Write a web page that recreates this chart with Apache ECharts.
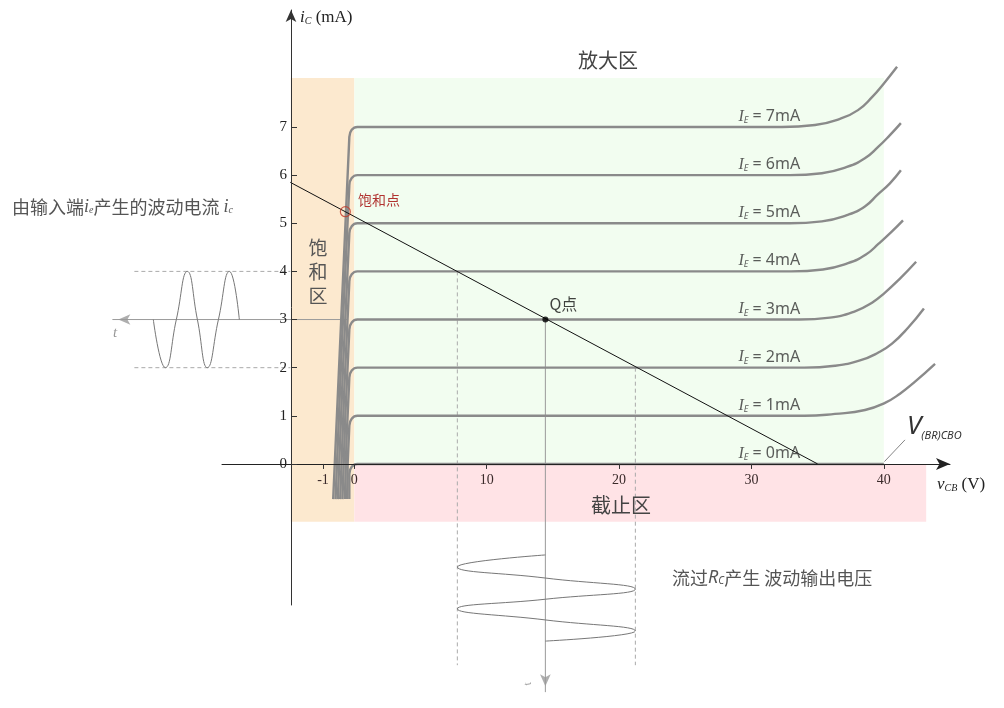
<!DOCTYPE html>
<html>
<head>
<meta charset="utf-8">
<script src="https://cdn.jsdelivr.net/npm/echarts@6/dist/echarts.min.js"></script>
<style>
html,body{margin:0;padding:0;background:#fff;}
#main{width:1004px;height:708px;}
</style>
</head>
<body>
<div id="main"></div>
<script>
// 刻度（负半轴在原图中被放大，-1 的刻度位置按图读取）
var xTickValues = [-2.37, 0, 10, 20, 30, 40];
var xTickLabels = ['-1', '0', '10', '20', '30', '40'];
var yTickValues = [0, 1, 2, 3, 4, 5, 6, 7];
// 发射极电流 I_E (mA)
var ieLevels = [0, 1, 2, 3, 4, 5, 6, 7];
// 饱和区各曲线底端的 vCB
var satFootX = [-0.38, -0.55, -0.72, -0.9, -1.07, -1.25, -1.42, -1.6];
var satFootY = -0.73;
// 拐角形状（相对 (0, I_E) 的偏移）
var kneeDX = [-0.38, -0.2, 0.23];
var kneeDY = [-0.21, -0.06, 0];
// 水平段结束处 vCB
var flatEndX = [40, 34.0, 34.0, 33.6, 33.0, 32.9, 32.9, 32.3];
// 击穿上翘段：vCB (V) 与上升量 (mA)
var riseX = [
  [],
  [36.31, 38.58, 40.09, 41.22, 42.36, 43.87],
  [36.31, 38.2, 39.56, 40.62, 41.83, 43.03],
  [35.93, 37.82, 39.11, 40.09, 41.22, 42.44],
  [35.4, 37.29, 38.65, 39.63, 40.54, 41.45],
  [35.32, 37.21, 38.57, 39.55, 40.46, 41.29],
  [35.32, 37.21, 38.57, 39.55, 40.46, 41.29],
  [34.8, 36.69, 38.05, 39.11, 40.02, 41.0]
];
var riseY = [
  [],
  [0.04, 0.12, 0.27, 0.46, 0.71, 1.08],
  [0.04, 0.15, 0.31, 0.5, 0.83, 1.23],
  [0.04, 0.17, 0.35, 0.56, 0.85, 1.2],
  [0.04, 0.17, 0.35, 0.58, 0.81, 1.06],
  [0.04, 0.17, 0.35, 0.6, 0.83, 1.1],
  [0.04, 0.17, 0.35, 0.58, 0.83, 1.08],
  [0.04, 0.17, 0.35, 0.62, 0.91, 1.25]
];
// 负载线
var loadLineX = [-4.84, 35];
var loadLineY = [5.85, 0];
var qPoint = [14.43, 3];
var satPoint = [-0.68, 5.24];
var ieLabelX = 31.35;
// 输入电流波形（时间向左）
var inWaveX = [-8.69, -9.44, -10.27, -11.11, -11.86, -12.62, -13.45, -14.28, -15.19];
var inWaveY = [3, 4, 3, 2, 3, 4, 3, 2, 3];
// 输出电压波形（时间向下）
var outWaveX = [14.43, 7.78, 14.43, 21.23, 14.43, 7.78, 14.43, 21.23, 14.43];
var outWaveY = [-1.89, -2.14, -2.37, -2.60, -2.81, -3.01, -3.24, -3.47, -3.68];
// 辅助线端点
var inAxisX = [-18.28, -0.5];
var inDashX = [-16.62, -4.84];
var outAxisY = [3, -4.74];
var outDashLX = 7.78, outDashRX = 21.23, outDashEndY = -4.18;
var inArrow = [-17.83, 3];
var outArrow = [14.43, -4.62];
var vbrLineX = [40.05, 41.6];
var vbrLineY = [0.05, 0.5];
// 区域
var satArea = [[-4.8, 8.02], [0, -1.2]];
var ampArea = [[0, 8.02], [40, 0]];
var cutArea = [[0, 0], [43.2, -1.2]];

// 坐标轴范围与版面
var xMin = -10, xMax = 45, yMin = -2.93, yMax = 9.43;
var gLeft = 222, gRight = 54, gTop = 10, gBottom = 103;
var pxPerX = (1004 - gLeft - gRight) / (xMax - xMin);
var pxPerY = (708 - gTop - gBottom) / (yMax - yMin);
var x0px = gLeft - xMin * pxPerX;
var y0px = gTop + yMax * pxPerY;
// 覆盖层（超出主坐标区的辅助线与波形）
var oxMin = -20, oyMin = -5;

var chart = echarts.init(document.getElementById('main'));
var serif = 'Liberation Serif';
var cjk = 'Noto Sans CJK SC';
var curveColor = '#8a8a8a';
var helpColor = '#9a9a9a';

function zip(xs, ys) {
  return xs.map(function (x, i) { return [x, ys[i]]; });
}

var series = [];

// 背景区域
series.push({
  type: 'line', data: [], z: 1, silent: true,
  markArea: {
    silent: true,
    data: [
      [{ coord: satArea[0], itemStyle: { color: '#fce9cf' } }, { coord: satArea[1] }],
      [{ coord: ampArea[0], itemStyle: { color: '#f2fdf0' } }, { coord: ampArea[1] }],
      [{ coord: cutArea[0], itemStyle: { color: '#ffe3e6' } }, { coord: cutArea[1] }]
    ]
  }
});

// 输出特性曲线
ieLevels.forEach(function (k) {
  var pts = [[satFootX[k], satFootY]];
  kneeDX.forEach(function (dx, i) { pts.push([dx, k + kneeDY[i]]); });
  if (k === 0) {
    pts.push([flatEndX[k], 0]);
  } else {
    pts.push([flatEndX[k] - 3, k]);
    pts.push([flatEndX[k], k]);
    riseX[k].forEach(function (x, i) { pts.push([x, k + riseY[k][i]]); });
  }
  series.push({
    type: 'line', data: pts, smooth: 0.5, symbol: 'none', clip: false, z: 3,
    lineStyle: { color: curveColor, width: 2.4 }, silent: true
  });
});

// 辅助线（覆盖层坐标系）
function helpLine(data, dashed, color, width) {
  series.push({
    type: 'line', xAxisIndex: 1, yAxisIndex: 1, data: data, symbol: 'none', clip: false, z: 2, silent: true,
    lineStyle: { color: color || helpColor, width: width || 1, type: dashed ? [4, 3] : 'solid' }
  });
}
helpLine([[inAxisX[0], 3], [inAxisX[1], 3]], false);
helpLine([[inDashX[0], 4], [inDashX[1], 4]], true, '#aaa');
helpLine([[inDashX[0], 2], [inDashX[1], 2]], true, '#aaa');
helpLine([[qPoint[0], outAxisY[0]], [qPoint[0], outAxisY[1]]], false);
helpLine([[outDashLX, 4], [outDashLX, outDashEndY]], true, '#aaa');
helpLine([[outDashRX, 2], [outDashRX, outDashEndY]], true, '#aaa');
helpLine(zip(vbrLineX, vbrLineY), false, '#666', 0.8);

// 波形
series.push({
  type: 'line', xAxisIndex: 1, yAxisIndex: 1, data: zip(inWaveX, inWaveY), smooth: 0.5, symbol: 'none', clip: false, z: 4,
  lineStyle: { color: '#777', width: 1 }, silent: true
});
series.push({
  type: 'line', xAxisIndex: 1, yAxisIndex: 1, data: zip(outWaveX, outWaveY), smooth: 0.5, symbol: 'none', clip: false, z: 4,
  lineStyle: { color: '#777', width: 1 }, silent: true
});

// 箭头
series.push({
  type: 'scatter', xAxisIndex: 1, yAxisIndex: 1, clip: false, symbol: 'arrow', symbolSize: [8, 12], z: 4, silent: true,
  itemStyle: { color: helpColor },
  data: [{ value: inArrow, symbolRotate: 90 }, { value: outArrow, symbolRotate: 180 }]
});

// 负载线
series.push({
  type: 'line', data: zip(loadLineX, loadLineY), symbol: 'none', clip: false, z: 5,
  lineStyle: { color: '#111', width: 1 }, silent: true
});

// Q 点
series.push({
  type: 'scatter', data: [qPoint], symbolSize: 6, z: 6, silent: true,
  itemStyle: { color: '#000' },
  label: { show: true, position: 'top', offset: [18, 0], formatter: 'Q点',
    fontFamily: cjk, fontSize: 16, color: '#111' }
});

// 饱和点
series.push({
  type: 'scatter', data: [satPoint], symbolSize: 10, z: 6, silent: true,
  itemStyle: { color: 'rgba(0,0,0,0)', borderColor: '#c0392b', borderWidth: 1.2 },
  label: { show: true, position: 'right', offset: [2, -12], formatter: '饱和点',
    fontFamily: cjk, fontSize: 14, color: '#a00000' }
});

// I_E 标注
series.push({
  type: 'scatter', symbolSize: 0, z: 6, silent: true,
  data: ieLevels.map(function (k) { return [ieLabelX, k]; }),
  label: {
    show: true, position: 'top', distance: 2,
    formatter: function (p) { return '{i|I}{e|E}{t| = ' + p.value[1] + 'mA}'; },
    rich: {
      i: { fontFamily: serif, fontStyle: 'italic', fontSize: 16, color: '#333' },
      e: { fontFamily: 'Noto Sans', fontStyle: 'italic', fontSize: 9, color: '#333', padding: [8, 0, 0, 0] },
      t: { fontFamily: 'Noto Sans', fontSize: 16, color: '#333' }
    }
  }
});

var option = {
  animation: false,
  backgroundColor: '#fff',
  grid: [
    { left: gLeft, right: gRight, top: gTop, bottom: gBottom, containLabel: false, outerBoundsMode: 'none' },
    { left: x0px + oxMin * pxPerX, right: gRight, top: gTop, bottom: 708 - (y0px - oyMin * pxPerY),
      containLabel: false, outerBoundsMode: 'none' }
  ],
  xAxis: [{
    type: 'value', min: xMin, max: xMax, z: 8, position: 'bottom',
    offset: -((708 - gBottom) - y0px),
    axisLine: { onZero: false, lineStyle: { color: '#222', width: 1 }, symbol: ['none', 'arrow'], symbolSize: [9, 14] },
    axisTick: { show: true, customValues: xTickValues, length: 5, lineStyle: { color: '#333' } },
    axisLabel: {
      customValues: xTickValues, color: '#3a2a2a', fontFamily: serif, fontSize: 14, margin: 9,
      formatter: function (v) { return xTickLabels[xTickValues.indexOf(v)]; }
    },
    splitLine: { show: false },
    name: '{v|v}{s|CB}{u| (V)}', nameLocation: 'end', nameGap: -13,
    nameTextStyle: {
      align: 'left', verticalAlign: 'top', padding: [12, 0, 0, 0],
      rich: {
        v: { fontFamily: serif, fontStyle: 'italic', fontSize: 17, color: '#222' },
        s: { fontFamily: serif, fontStyle: 'italic', fontSize: 10, color: '#222', padding: [7, 0, 0, 0] },
        u: { fontFamily: serif, fontSize: 17, color: '#222' }
      }
    }
  }, {
    type: 'value', gridIndex: 1, min: oxMin, max: xMax, show: false
  }],
  yAxis: [{
    type: 'value', min: yMin, max: yMax, position: 'left', offset: -69, z: 8,
    axisLine: { onZero: false, lineStyle: { color: '#333', width: 1 }, symbol: ['none', 'arrow'], symbolSize: [8, 12] },
    axisTick: { show: true, customValues: yTickValues, inside: true, length: 6, lineStyle: { color: '#333' } },
    axisLabel: { customValues: yTickValues, color: '#222', fontFamily: serif, fontSize: 15, margin: 4 },
    splitLine: { show: false },
    name: '{i|i}{s|C}{u| (mA)}', nameLocation: 'end', nameGap: -8,
    nameTextStyle: {
      align: 'left', verticalAlign: 'middle', padding: [0, 0, 0, 9],
      rich: {
        i: { fontFamily: serif, fontStyle: 'italic', fontSize: 17, color: '#222' },
        s: { fontFamily: serif, fontStyle: 'italic', fontSize: 10, color: '#222', padding: [7, 0, 0, 0] },
        u: { fontFamily: serif, fontSize: 17, color: '#222' }
      }
    }
  }, {
    type: 'value', gridIndex: 1, min: oyMin, max: yMax, show: false
  }],
  graphic: [
    { type: 'text', x: 608, y: 60, z: 10, style: { text: '放大区', fontFamily: cjk, fontSize: 20, fill: '#444', align: 'center', verticalAlign: 'middle' } },
    { type: 'text', x: 621, y: 505, z: 10, style: { text: '截止区', fontFamily: cjk, fontSize: 20, fill: '#444', align: 'center', verticalAlign: 'middle' } },
    { type: 'text', x: 318, y: 272, z: 10, style: { text: '饱\n和\n区', fontFamily: cjk, fontSize: 19, lineHeight: 24, fill: '#555', align: 'center', verticalAlign: 'middle' } },
    { type: 'text', x: 12, y: 207, z: 10, style: {
      text: '{c|由输入端}{i|i}{s|e}{c|产生的波动电流 }{i|i}{s|c}', align: 'left', verticalAlign: 'middle',
      rich: {
        c: { fontFamily: cjk, fontSize: 18, fill: '#555' },
        i: { fontFamily: serif, fontStyle: 'italic', fontSize: 18, fill: '#555' },
        s: { fontFamily: serif, fontStyle: 'italic', fontSize: 10, fill: '#555', padding: [7, 0, 0, 0] }
      } } },
    { type: 'text', x: 672, y: 578, z: 10, style: {
      text: '{c|流过}{r|R}{s|C}{c|产生 波动输出电压}', align: 'left', verticalAlign: 'middle',
      rich: {
        c: { fontFamily: cjk, fontSize: 18, fill: '#555' },
        r: { fontFamily: 'Noto Sans', fontStyle: 'italic', fontSize: 18, fill: '#555' },
        s: { fontFamily: 'Noto Sans', fontStyle: 'italic', fontSize: 10, fill: '#555', padding: [7, 0, 0, 0] }
      } } },
    { type: 'text', x: 907, y: 427, z: 10, style: {
      text: '{v|V}{s|(BR)CBO}', align: 'left', verticalAlign: 'middle',
      rich: {
        v: { fontFamily: 'Noto Sans', fontStyle: 'italic', fontSize: 26, fill: '#333' },
        s: { fontFamily: 'Noto Sans', fontStyle: 'italic', fontSize: 11, fill: '#333', padding: [18, 0, 0, 0] }
      } } },
    { type: 'text', x: 115, y: 333, z: 10, style: { text: 't', fontFamily: serif, fontStyle: 'italic', fontSize: 15, fill: '#999', align: 'center', verticalAlign: 'middle' } },
    { type: 'text', x: 528, y: 684, rotation: Math.PI / 2 + 0.3, z: 10, style: { text: 't', fontFamily: serif, fontStyle: 'italic', fontSize: 11, fill: '#999', align: 'center', verticalAlign: 'middle' } }
  ],
  series: series
};

chart.setOption(option);
window.onresize = function () { chart.resize(); };
</script>
</body>
</html>
